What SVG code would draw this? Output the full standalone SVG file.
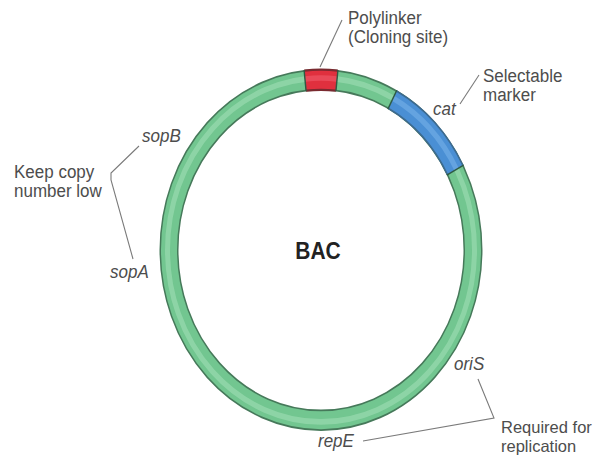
<svg xmlns="http://www.w3.org/2000/svg" width="600" height="457" viewBox="0 0 600 457">
<style>
.lbl{font-family:"Liberation Sans",Arial,sans-serif;font-size:17px;fill:#4d4d4d}
.sm{font-size:16.5px}
.it{font-style:italic}
.bac{font-family:"Liberation Sans",Arial,sans-serif;font-size:21px;font-weight:bold;fill:#222}
.lead{fill:none;stroke:#7a7a7a;stroke-width:1.1}
.edge{fill:none;stroke:#46795a;stroke-width:19}
.seg{fill:none;stroke-width:16}
.hl{fill:none;stroke-width:5;opacity:0.55}
.div{stroke:#2f5a44;stroke-width:1.4;vector-effect:non-scaling-stroke}
</style>
<rect width="600" height="457" fill="#ffffff"/>
<g id="plasmid" transform="translate(321,250) scale(1,1.12)">
  <circle r="152" class="edge"/>
  <circle r="152" class="seg" stroke="#72c690"/>
  <circle r="153.5" class="hl" stroke="#a4e0b8"/>
  <g id="polylinker-segment">
    <path d="M -15.9 -151.2 A 152 152 0 0 1 15.9 -151.2" fill="none" stroke="#7a2a30" stroke-width="20"/>
    <path d="M -15.9 -151.2 A 152 152 0 0 1 15.9 -151.2" class="seg" stroke="#e0303e"/>
    <path d="M -15.9 -152.7 A 153.5 153.5 0 0 1 15.9 -152.7" class="hl" stroke="#f06070"/>
  </g>
  <g id="cat-segment">
    <path d="M 71.4 -134.2 A 152 152 0 0 1 134.2 -71.4" fill="none" stroke="#3d6a90" stroke-width="19"/>
    <path d="M 71.4 -134.2 A 152 152 0 0 1 134.2 -71.4" class="seg" stroke="#4a8fd4"/>
    <path d="M 72.1 -135.5 A 153.5 153.5 0 0 1 135.5 -72.1" class="hl" stroke="#7ab4ea"/>
  </g>
  <line class="div" x1="-14.9" y1="-141.8" x2="-16.9" y2="-160.6"/>
  <line class="div" x1="14.9" y1="-141.8" x2="16.9" y2="-160.6"/>
  <line class="div" x1="66.9" y1="-125.8" x2="75.8" y2="-142.6"/>
  <line class="div" x1="125.8" y1="-66.9" x2="142.6" y2="-75.8"/>
</g>
<g id="connectors">
  <line class="lead" x1="320" y1="67" x2="342" y2="20"/>
  <line class="lead" x1="460" y1="104" x2="479" y2="75"/>
  <polyline class="lead" points="139,146 111,173 111,180 133,259"/>
  <polyline class="lead" points="363,441 494,418 478,379"/>
</g>
<g id="bac-label"><text class="bac" transform="translate(318,259) scale(1,1.1)" text-anchor="middle">BAC</text></g>
<g id="polylinker">
  <text class="lbl" transform="translate(348,24) scale(1,1.05)">Polylinker</text>
  <text class="lbl" transform="translate(348,43) scale(1,1.05)">(Cloning site)</text>
</g>
<g id="selectable-marker">
  <text class="lbl" transform="translate(483,82) scale(1,1.05)">Selectable</text>
  <text class="lbl" transform="translate(483,101) scale(1,1.05)">marker</text>
  <text class="lbl it" transform="translate(433,115) scale(1,1.05)">cat</text>
</g>
<g id="copy-number">
  <text class="lbl it" transform="translate(142,142) scale(1,1.05)">sopB</text>
  <text class="lbl" transform="translate(14,178) scale(1,1.05)">Keep copy</text>
  <text class="lbl" transform="translate(14,197) scale(1,1.05)">number low</text>
  <text class="lbl it" transform="translate(110,278) scale(1,1.05)">sopA</text>
</g>
<g id="replication">
  <text class="lbl it" transform="translate(454,370) scale(1,1.05)">oriS</text>
  <text class="lbl sm" transform="translate(501,433)">Required for</text>
  <text class="lbl sm" transform="translate(501,452)">replication</text>
  <text class="lbl it" transform="translate(318,447) scale(1,1.05)">repE</text>
</g>
</svg>
